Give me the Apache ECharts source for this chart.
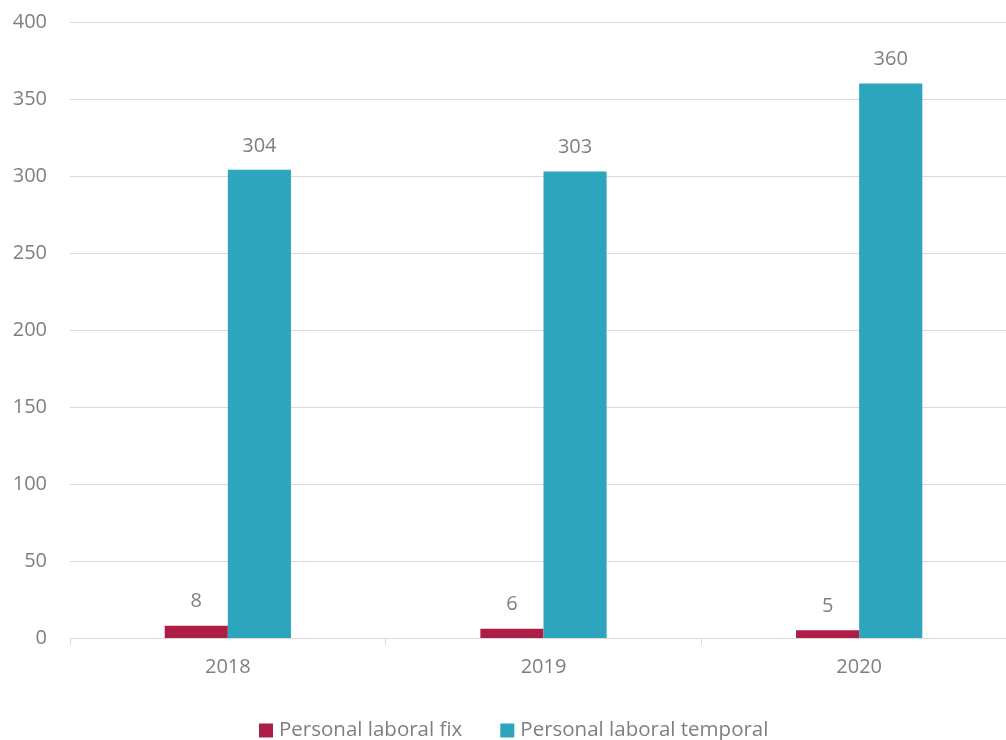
<!DOCTYPE html>
<html><head><meta charset="utf-8">
<script src="https://cdn.jsdelivr.net/npm/echarts@6/dist/echarts.min.js"></script>
<style>html,body{margin:0;padding:0;background:#fff;overflow:hidden}#c{width:1018px;height:740px}</style>
</head><body><div id="c"></div>
<script>
const categories = ['2018', '2019', '2020'];
const fixValues = [8, 6, 5];
const temporalValues = [304, 303, 360];
const seriesNames = ['Personal laboral fix', 'Personal laboral temporal'];

const font = '"Open Sans", "Noto Sans", sans-serif';
const chart = echarts.init(document.getElementById('c'), null, {renderer: 'canvas'});
const labelStyle = {show: true, position: 'top', distance: 14, color: '#7f7f7f', fontSize: 20, fontFamily: font};
chart.setOption({
  animation: false,
  grid: {left: 70, right: 1, top: 22, bottom: 102, containLabel: false},
  legend: {
    top: 720, left: 259, padding: 0, itemWidth: 14, itemHeight: 14, itemGap: 38,
    icon: 'rect',
    textStyle: {color: '#7f7f7f', fontSize: 20.5, fontFamily: font, padding: [0, 0, 0, 1]},
    data: seriesNames
  },
  xAxis: {
    type: 'category', data: categories,
    axisLine: {lineStyle: {color: '#d9d9d9'}},
    axisTick: {show: true, length: 7, lineStyle: {color: '#d9d9d9'}},
    axisLabel: {color: '#7f7f7f', fontSize: 20, fontFamily: font, margin: 19}
  },
  yAxis: {
    type: 'value', min: 0, max: 400, interval: 50,
    axisLine: {show: false}, axisTick: {show: false},
    splitLine: {lineStyle: {color: '#d9d9d9'}},
    axisLabel: {color: '#7f7f7f', fontSize: 20, fontFamily: font, margin: 23}
  },
  series: [
    {name: seriesNames[0], type: 'bar', data: fixValues, barWidth: '20%', barGap: '0%',
     itemStyle: {color: '#AD1D46'}, label: labelStyle},
    {name: seriesNames[1], type: 'bar', data: temporalValues, barWidth: '20%', barGap: '0%',
     itemStyle: {color: '#2DA5BD'}, label: labelStyle}
  ]
});
</script></body></html>
